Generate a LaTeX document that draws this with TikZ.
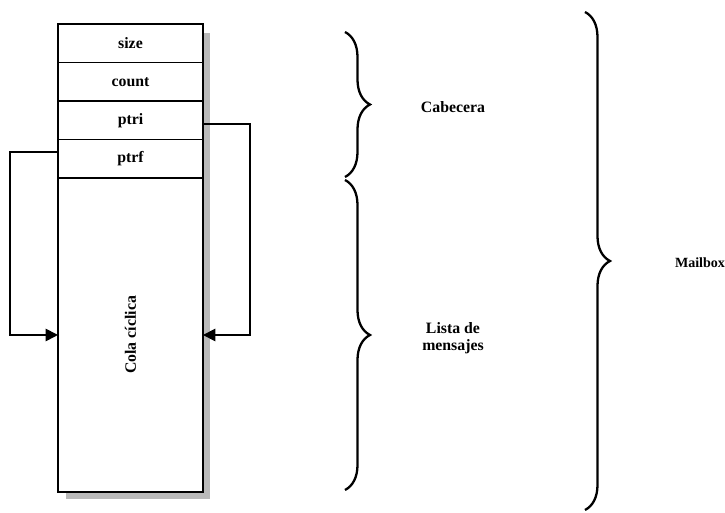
\documentclass[tikz,border=0pt]{standalone}
\usepackage{fontspec}
\setmainfont{Liberation Serif}
\usetikzlibrary{arrows.meta,positioning,decorations.pathreplacing}

\begin{document}
\begin{tikzpicture}[x=0.02cm,y=-0.02cm,>={Triangle[length=7pt,width=7pt]},
    cell/.style={draw,fill=white,line width=1pt,outer sep=0pt,inner sep=0pt,
      minimum width=2.9cm,minimum height=0.77cm,font=\fontsize{9}{10}\selectfont\bfseries},
    curly/.style={decorate,decoration={brace,amplitude=0.5cm},line width=1.3pt},
    lbl/.style={font=\fontsize{9}{10}\selectfont\bfseries,align=center}]
  \useasboundingbox (0,0) rectangle (725,513);
  % sombra
  \fill[gray!55] (66,33) rectangle (210,499);
  \node[cell,anchor=north west] (size) at (58,24) {size};
  \node[cell,below=0pt of size] (count) {count};
  \node[cell,below=0pt of count] (ptri) {ptri};
  \node[cell,below=0pt of ptri] (ptrf) {ptrf};
  \node[cell,below=0pt of ptrf,minimum height=6.28cm] (cola) {};
  \node[lbl,rotate=90] (colatxt) at (cola.center) {Cola c\'iclica};
  % punteros
  \coordinate (lhook) at (10,335);
  \coordinate (rhook) at (250,335);
  \draw[line width=1pt,->] ([yshift=4pt]ptrf.west) -| (lhook) -- (lhook -| cola.west);
  \draw[line width=1pt,->] ([yshift=-2pt]ptri.east) -| (rhook) -- (rhook -| cola.east);
  % llaves
  \draw[curly] (345,32) -- (345,177);
  \draw[curly] (345,180) -- (345,490);
  \draw[curly] (585,12) -- (585,510);
  \node[lbl] (cab) at (453,107) {Cabecera};
  \node[lbl] (lista) at (453,338) {Lista de\\mensajes};
  \node[lbl,font=\fontsize{8}{9}\selectfont\bfseries] (mailbox) at (700,263) {Mailbox};
\end{tikzpicture}
\end{document}
